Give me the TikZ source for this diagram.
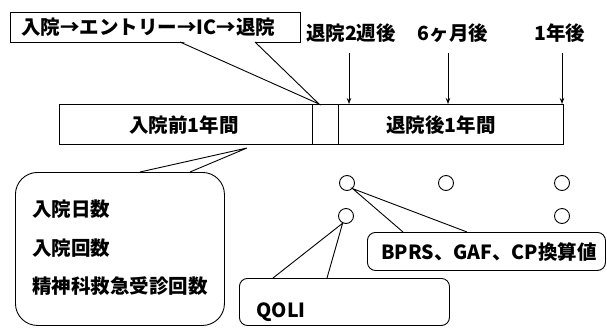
\documentclass[tikz,border=0pt]{standalone}
\usepackage{fontspec}
\setmainfont{Noto Sans CJK JP}
\usetikzlibrary{arrows.meta}
\begin{document}
\begin{tikzpicture}[x=1pt,y=-1pt, line width=0.9pt,
  font=\fontsize{19.5}{22}\selectfont\bfseries,
  box/.style={draw, fill=white, rectangle, inner sep=0pt, anchor=north west},
  txt/.style={inner sep=0pt},
  dot/.style={circle, draw, minimum size=15pt, inner sep=0pt},
  tick/.style={-{Stealth[length=6pt,width=4.5pt]}}]
\useasboundingbox (0,0) rectangle (607,327);

% timeline bar
\node[box, minimum width=253pt, minimum height=40pt] (pre) at (59,104) {};
\node[box, minimum width=26pt, minimum height=40pt] (mid) at (312,104) {};
\node[box, minimum width=225pt, minimum height=40pt] (post) at (338,104) {};
\node[txt] (pretext) at (184,125) {入院前1年間};
\node[txt] (posttext) at (441,125) {退院後1年間};

% time labels and arrows
\node[txt] (l1) at (351,33) {退院2週後};
\node[txt] (l2) at (453,33) {6ヶ月後};
\node[txt] (l3) at (560,33) {1年後};
\coordinate (a1) at (349,53); \coordinate (b1) at (349,104);
\coordinate (a2) at (448,53); \coordinate (b2) at (448,104);
\coordinate (a3) at (562,53); \coordinate (b3) at (562,104);
\draw[tick] (a1) -- (b1);
\draw[tick] (a2) -- (b2);
\draw[tick] (a3) -- (b3);

% top callout
\node[box, minimum width=290pt, minimum height=30pt] (topbox) at (10,12) {};
\node[txt, anchor=west] (toptext) at (21,27) {入院→エントリー→IC→退院};
\coordinate (tip1) at (319,104);
\coordinate (p1a) at (180,42); \coordinate (p1b) at (255,42);
\fill[white] (181,41) -- (tip1) -- (254,41) -- cycle;
\draw (p1a) -- (tip1) -- (p1b);

% left callout
\node[box, rounded corners=22pt, minimum width=209pt, minimum height=153pt] (lbox) at (15,172) {};
\coordinate (tip2) at (247,148);
\coordinate (p2a) at (140,172); \coordinate (p2b) at (190,172);
\fill[white] (141,171) -- (tip2) -- (189,171) -- cycle;
\draw (p2a) -- (tip2) -- (p2b);
\node[txt, anchor=west] (m1) at (32,209) {入院日数};
\node[txt, anchor=west] (m2) at (32,248) {入院回数};
\node[txt, anchor=west] (m3) at (32,286) {精神科救急受診回数};

% circles
\node[dot] (c1) at (347,183) {};
\node[dot] (c2) at (346,216) {};
\node[dot] (c3) at (446,183) {};
\node[dot] (c4) at (562,183) {};
\node[dot] (c5) at (562,216) {};

% BPRS callout
\node[box, rounded corners=8pt, minimum width=238pt, minimum height=38pt] (bbox) at (367,232) {};
\coordinate (p3a) at (403,232); \coordinate (p3b) at (467,232);
\fill[white] (404,231) -- (c1.south east) -- (466,231) -- cycle;
\draw (p3a) -- (c1.south east) -- (p3b);
\node[txt] (btext) at (489,252) {BPRS、GAF、CP換算値};

% QOLI callout
\node[box, rounded corners=8pt, minimum width=210pt, minimum height=47pt] (qbox) at (239,278) {};
\coordinate (p4a) at (273,278); \coordinate (p4b) at (327,278);
\fill[white] (274,277) -- (c2.-115) -- (326,277) -- cycle;
\draw (p4a) -- (c2.-115) -- (p4b);
\node[txt, anchor=west] (qtext) at (256,312) {QOLI};
\end{tikzpicture}
\end{document}
